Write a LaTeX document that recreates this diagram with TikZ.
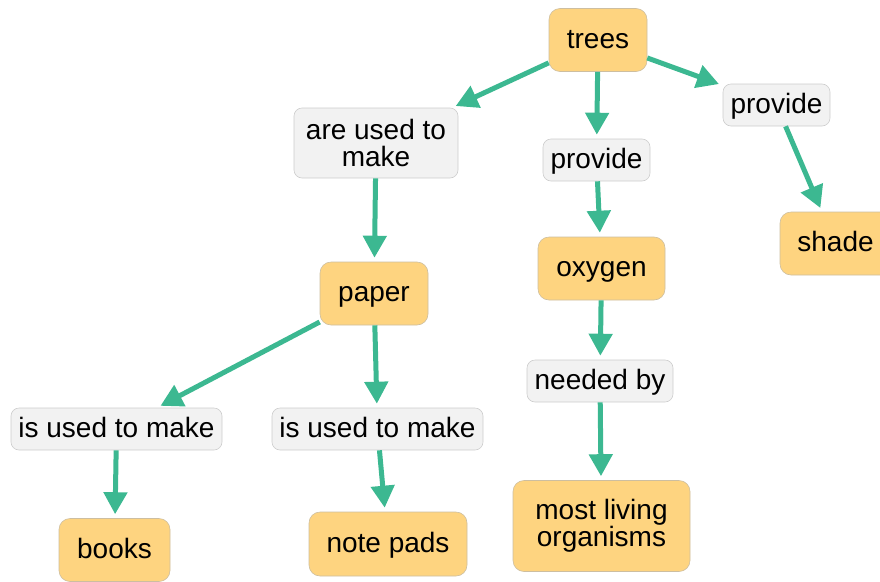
\documentclass[tikz,border=0pt]{standalone}
\usepackage{fontspec}
\setmainfont{Liberation Sans}
\usetikzlibrary{arrows.meta}
\definecolor{conceptfill}{RGB}{254,212,128}
\definecolor{conceptdraw}{RGB}{205,190,160}
\definecolor{linkfill}{RGB}{242,242,242}
\definecolor{linkdraw}{RGB}{205,205,205}
\definecolor{arrowgreen}{RGB}{60,184,145}
\begin{document}
\begin{tikzpicture}[x=1pt,y=-1pt,
  every node/.style={font=\fontsize{28}{27}\selectfont, align=center, inner sep=0pt, text=black},
  oneline/.style={text height=21pt, text depth=5pt},
  concept/.style={draw=conceptdraw, line width=0.6pt, fill=conceptfill, rounded corners=11pt},
  linkbox/.style={draw=linkdraw, line width=0.6pt, fill=linkfill, rounded corners=8pt},
  conn/.style={draw=arrowgreen, line width=5pt, shorten >=4pt,
    -{Triangle[length=22pt,width=23pt]}}]
\useasboundingbox (0,0) rectangle (880,581);
% concepts
\node[concept, oneline, minimum width=98pt, minimum height=63pt] (trees) at (598,40) {trees};
\node[concept, oneline, minimum width=111pt, minimum height=63pt] (shade) at (835.5,243.5) {shade};
\node[concept, oneline, minimum width=108pt, minimum height=63pt] (paper) at (374,293.5) {paper};
\node[concept, oneline, minimum width=127pt, minimum height=63pt] (oxygen) at (601.5,268.5) {oxygen};
\node[concept, oneline, minimum width=111pt, minimum height=63pt] (books) at (114.5,550) {books};
\node[concept, oneline, minimum width=158pt, minimum height=64pt] (notepads) at (388,544) {note pads};
\node[concept, minimum width=177pt, minimum height=91pt] (most) at (601.5,526) {most living\\organisms};
% link phrases
\node[linkbox, minimum width=164pt, minimum height=70pt] (areused) at (376,143) {are used to\\make};
\node[linkbox, oneline, minimum width=107pt, minimum height=42pt] (provmid) at (596.5,160) {provide};
\node[linkbox, oneline, minimum width=107pt, minimum height=42pt] (provright) at (776.5,105) {provide};
\node[linkbox, oneline, minimum width=146pt, minimum height=42pt] (neededby) at (600,381) {needed by};
\node[linkbox, oneline, minimum width=211pt, minimum height=42pt] (isusedL) at (116.5,429) {is used to make};
\node[linkbox, oneline, minimum width=211pt, minimum height=42pt] (isusedR) at (377.5,429) {is used to make};
% connectors
\draw[conn] (trees) -- (areused);
\draw[conn] (trees) -- (provmid);
\draw[conn] (trees) -- (provright);
\draw[conn] (provright) -- (shade);
\draw[conn] (areused) -- (paper);
\draw[conn] (provmid) -- (oxygen);
\draw[conn] (paper) -- (isusedL);
\draw[conn] (paper) -- (isusedR);
\draw[conn] (oxygen) -- (neededby);
\draw[conn] (isusedL) -- (books);
\draw[conn] (isusedR) -- (notepads);
\draw[conn] (neededby) -- (most);
\end{tikzpicture}
\end{document}
